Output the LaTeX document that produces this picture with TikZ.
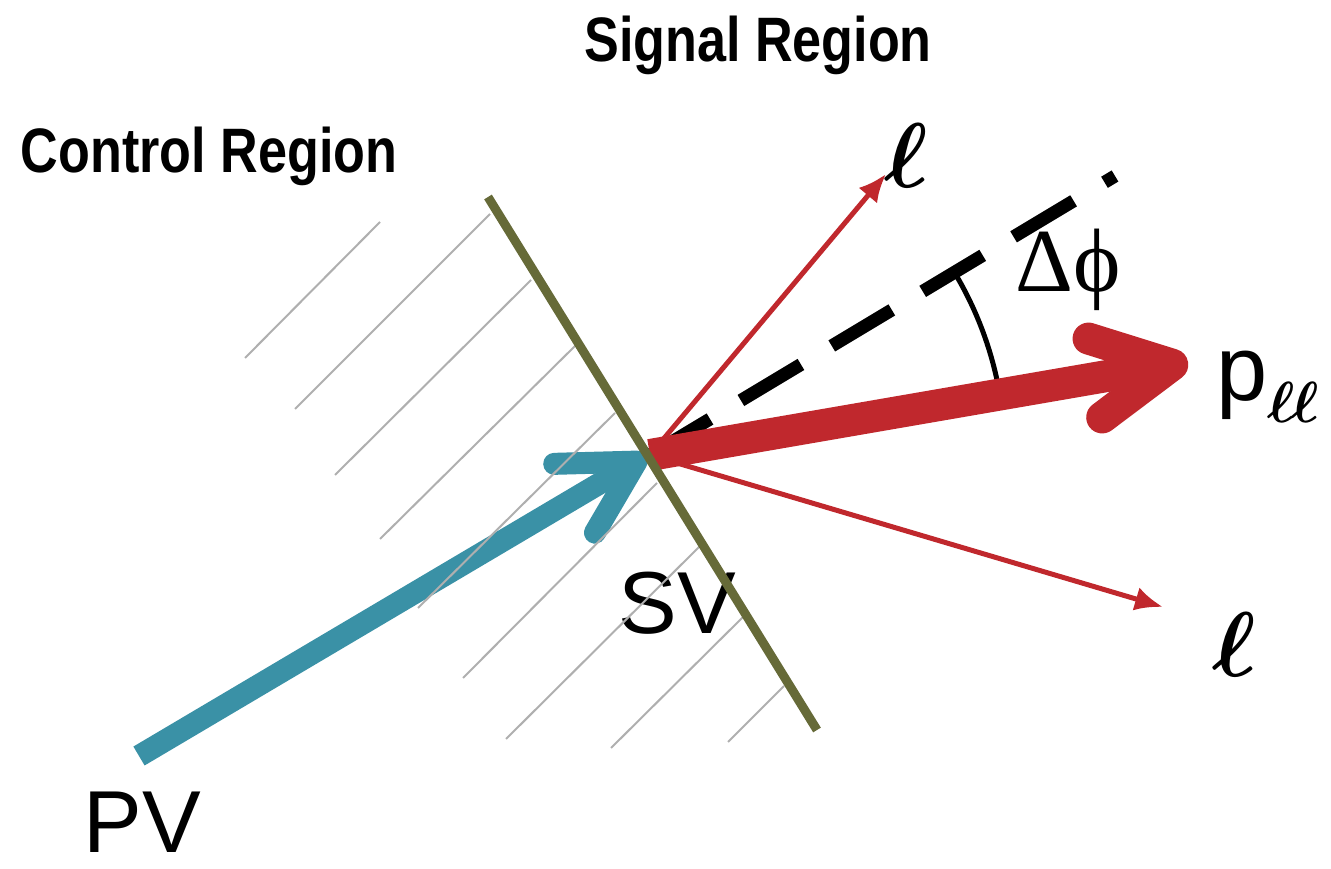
\RequirePackage{fix-cm}
\documentclass[tikz,border=0pt]{standalone}
\usepackage{fontspec}
\setmainfont{Liberation Sans}
\newfontfamily\symfont{Liberation Serif}
\usetikzlibrary{arrows.meta}
\definecolor{VertexTeal}{RGB}{58,145,166}
\definecolor{LeptonRed}{RGB}{192,40,45}
\definecolor{CutOlive}{RGB}{102,106,56}
\definecolor{HatchGray}{RGB}{175,175,175}
\tikzset{
  region/.style={anchor=base, inner sep=0pt,
    font=\fontsize{31.4}{36}\selectfont\bfseries},
  vtx/.style={anchor=base, inner sep=0pt, text depth=0pt,
    font=\fontsize{44}{50}\selectfont},
  sym/.style={anchor=base, inner sep=0pt,
    font=\fontsize{45}{50}\selectfont\symfont},
  ell/.style={anchor=base, inner sep=0pt, font=\fontsize{46}{50}\selectfont\boldmath},
  cut/.style={line width=4.5pt, draw=CutOlive},
  hatch/.style={line width=1pt, draw=HatchGray},
  flight/.style={line width=11pt, draw=VertexTeal,
    -{Straight Barb[length=36pt, width=40pt, round]}},
  dilep/.style={line width=16pt, draw=LeptonRed,
    -{Straight Barb[length=39pt, width=40pt, round]}},
  lep/.style={line width=2.5pt, draw=LeptonRed, -{Latex[length=14pt, width=12pt]}},
  phiaxis/.style={line width=6.5pt, dash pattern=on 35pt off 18pt},
  phiarc/.style={line width=2.5pt},
}
\begin{document}
\begin{tikzpicture}[x=0.5pt, y=0.5pt]
  \useasboundingbox (0,0) rectangle (1331,868);
  % vertices and tips
  \coordinate (pv) at (139,112);
  \coordinate (sv) at (650,413);
  \coordinate (svtip) at (646,412);
  \coordinate (cutA) at (488,671);
  \coordinate (cutB) at (817,138);
  \coordinate (llup) at (886,694);
  \coordinate (lllo) at (1163,261);
  \coordinate (pll) at (1188,506);
  \coordinate (axisend) at (1115,692);
  % labels
  \node[region] (sig) at (758,806) {\scalebox{0.83}[1]{Signal Region}};
  \node[region] (ctl) at (209,695) {\scalebox{0.83}[1]{Control Region}};
  \node[vtx] (pvlab) at (142,16) {PV};
  \node[vtx] (svlab) at (677,235) {SV};
  \node[sym] (dphi) at (1068,576) {Δϕ};
  \node[ell] (lupl) at (906,680) {$\ell$};
  \node[ell] (llol) at (1234,192) {$\ell$};
  \node[anchor=base west, inner sep=0pt] (plab) at (1216,467)
    {\fontsize{46}{50}\selectfont p\raisebox{-11pt}{\fontsize{29}{34}\selectfont\boldmath$\ell\mkern-1mu\ell$}};
  % flight direction
  \draw[flight] (pv) -- (svtip);
  % control region hatching
  \foreach \xa/\ya/\xb/\yb in {245/510/380/646, 295/459/490/654, 335/393/531/588,
      380/329/577/524, 418/260/615/455, 463/190/657/385, 506/129/702/324,
      611/120/744/252, 728/126/784/182}
    \draw[hatch] (\xa,\ya) -- (\xb,\yb);
  % opening angle
  \draw[phiaxis] (sv) -- (axisend);
  \draw[phiarc] (sv) ++(31:355) arc[start angle=31, end angle=10, radius=355];
  \draw[lep] (sv) -- (llup);
  \draw[lep] (sv) -- (lllo);
  \draw[dilep] (sv) -- (pll);
  \draw[cut] (cutA) -- (cutB);
\end{tikzpicture}
\end{document}
